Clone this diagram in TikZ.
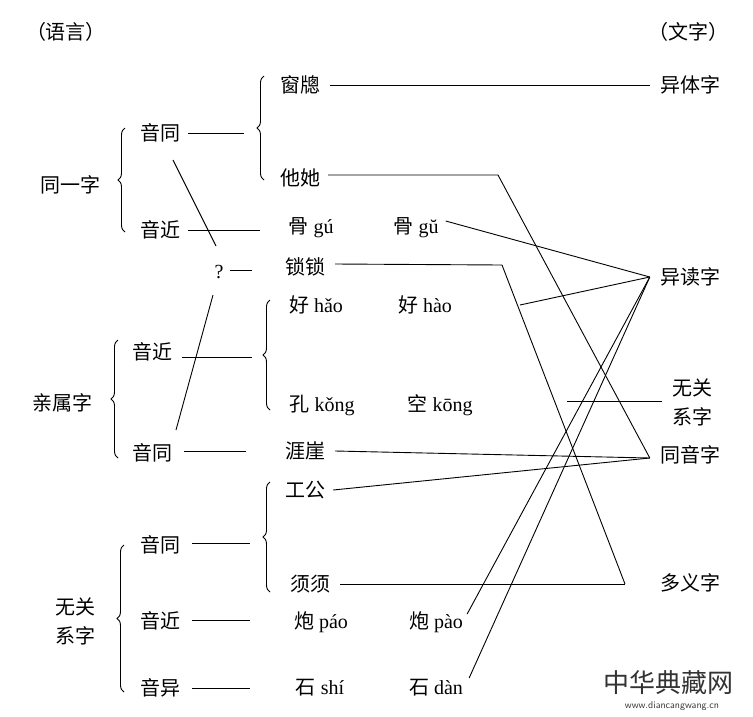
\documentclass[tikz,border=0pt]{standalone}
\usepackage{fontspec}
\setmainfont{Liberation Serif}
\newfontfamily\cjk{Noto Sans CJK SC}
\usetikzlibrary{decorations.pathreplacing}

\tikzset{
  txt/.style={font=\fontsize{20}{23}\selectfont, inner sep=2pt},
  lnk/.style={line width=0.9pt},
  brc/.style={line width=0.9pt, decorate, decoration={brace, amplitude=7pt}}
}

\begin{document}
\begin{tikzpicture}[x=1pt,y=-1pt]
\useasboundingbox (0,0) rectangle (753,716);

% headings
\node[txt] (yy) at (66,32) {\cjk （语言）};
\node[txt] (wz) at (688,32) {\cjk （文字）};

% left column
\node[txt] (tyz) at (70,185) {\cjk 同一字};
\node[txt] (qsz) at (62,403) {\cjk 亲属字};
\node[txt, align=center] (wgx) at (76,621) {\cjk 无关\\[6pt]\cjk 系字};

\node[txt] (yt1) at (160,133) {\cjk 音同};
\node[txt] (yj1) at (160,230) {\cjk 音近};
\node[txt] (yj2) at (152,352) {\cjk 音近};
\node[txt] (yt2) at (152,453) {\cjk 音同};
\node[txt] (yt3) at (160,545) {\cjk 音同};
\node[txt] (yj3) at (160,621) {\cjk 音近};
\node[txt] (yy3) at (160,688) {\cjk 音异};
\node[txt] (wen) at (219,272) {?};

% middle column
\node[txt] (cc)  at (300,85)  {\cjk 窗牕};
\node[txt] (tt)  at (300,178) {\cjk 他她};
\node[txt] (gu1) at (311,228) {{\cjk 骨} gú};
\node[txt] (gu2) at (416,228) {{\cjk 骨} gŭ};
\node[txt] (ss)  at (305,267) {\cjk 锁锁};
\node[txt] (ha1) at (316,305) {{\cjk 好} hǎo};
\node[txt] (ha2) at (425,305) {{\cjk 好} hào};
\node[txt] (ko1) at (322,405) {{\cjk 孔} kǒng};
\node[txt] (ko2) at (440,405) {{\cjk 空} kōng};
\node[txt] (yc)  at (305,451) {\cjk 涯崖};
\node[txt] (gg)  at (305,490) {\cjk 工公};
\node[txt] (xx)  at (310,584) {\cjk 须须};
\node[txt] (pa1) at (321,622) {{\cjk 炮} páo};
\node[txt] (pa2) at (436,622) {{\cjk 炮} pào};
\node[txt] (sh1) at (320,688) {{\cjk 石} shí};
\node[txt] (sh2) at (436,688) {{\cjk 石} dàn};

% right column
\node[txt] (ytz) at (690,85)  {\cjk 异体字};
\node[txt] (ydz) at (690,277) {\cjk 异读字};
\node[txt, align=center] (wgz) at (692,402) {\cjk 无关\\[6pt]\cjk 系字};
\node[txt] (tyz2) at (690,455) {\cjk 同音字};
\node[txt] (dyz) at (690,583) {\cjk 多义字};
\coordinate (ydzp) at ([xshift=-8pt]ydz.west);
\coordinate (tyzp) at ([xshift=-8pt,yshift=-3pt]tyz2.west);

% watermark
\node[font=\cjk\fontsize{26}{28}\selectfont, text=black!80] (wm) at (668,683) {中华典藏网};
\node[font=\fontsize{10}{12}\selectfont\sffamily, text=black!80] (wmu) at (672,706) {www.diancangwang.cn};

% braces
\draw[brc] (125,232) -- (125,128);
\draw[brc] (264,180) -- (264,76);
\draw[brc] (118,458) -- (118,340);
\draw[brc] (270,410) -- (270,300);
\draw[brc] (270,592) -- (270,482);
\draw[brc] (124,692) -- (124,545);

% short dashes
\draw[lnk] (yt1.east) ++(6,0) -- +(56,0);
\draw[lnk] (yj1.east) ++(6,0) -- +(72,0);
\draw[lnk] (wen.east) ++(4,-2) -- +(22,0);
\draw[lnk] (yj2.east) ++(8,5) -- +(70,0);
\draw[lnk] (yt2.east) ++(10,-2) -- +(62,0);
\draw[lnk] (yt3.east) ++(10,-2) -- +(58,0);
\draw[lnk] (yj3.east) ++(10,-1) -- +(58,0);
\draw[lnk] (yy3.east) ++(10,0) -- +(58,0);

% slashes through the question mark
\draw[lnk] (173,160) -- (216,246);
\draw[lnk] (213,295) -- (176,430);

% links to the right column
\draw[lnk] (cc.east) ++(8,0) -- ([xshift=-8pt]ytz.west);
\draw[lnk] (tt.east) ++(6,-3) -- (498,175) -- (tyzp);
\draw[lnk] (gu2.east) ++(5,-7) -- (ydzp);
\draw[lnk] (ss.east) ++(8,-3) -- (502,265) -- (625,584) coordinate (dy0);
\draw[lnk] (520,305) -- (ydzp);
\draw[lnk] (567,401) -- (662,401);
\draw[lnk] (yc.east) ++(8,0) -- (tyzp);
\draw[lnk] (gg.east) ++(6,0) -- (tyzp);
\draw[lnk] (xx.east) ++(8,0) -- (dy0);
\draw[lnk] (pa2.east) ++(2,-8) -- (ydzp);
\draw[lnk] (sh2.east) ++(4,-10) -- (ydzp);
\end{tikzpicture}
\end{document}
